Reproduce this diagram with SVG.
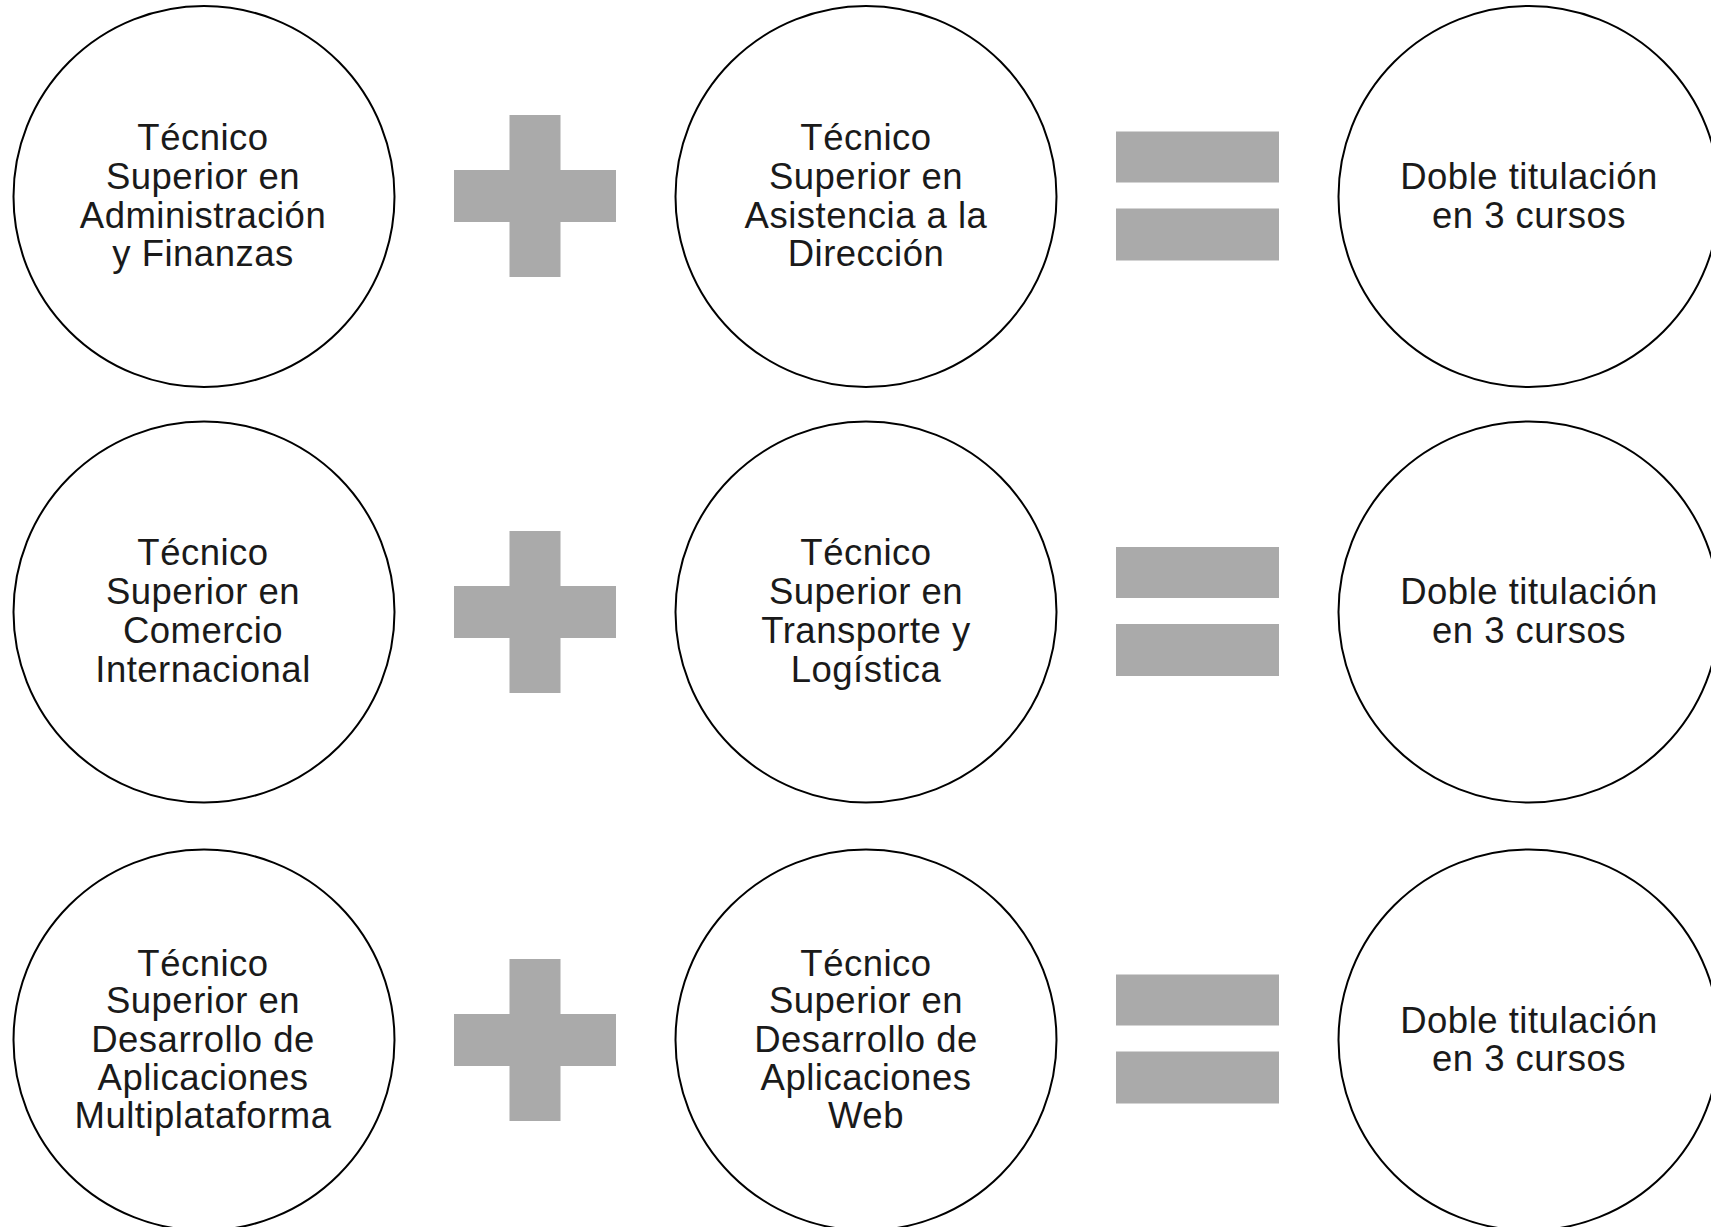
<svg xmlns="http://www.w3.org/2000/svg" width="1711" height="1227" viewBox="0 0 1711 1227">
<style>
.c{fill:#fff;stroke:#000;stroke-width:2}
.t{font-family:"Liberation Sans",Arial,sans-serif;font-size:36.5px;letter-spacing:0.5px;fill:#1a1a1a;text-anchor:middle}
.g{fill:#aaaaaa}
</style>
<defs>
<g id="plus"><rect class="g" x="-25.5" y="-81" width="51" height="162"/><rect class="g" x="-81" y="-26" width="162" height="52"/></g>
<g id="eq"><rect class="g" x="-81.5" y="-65" width="163" height="51"/><rect class="g" x="-81.5" y="12" width="163" height="52"/></g>
</defs>
<rect width="1711" height="1227" fill="#fff"/>
<g id="connectors">
<use href="#plus" x="535" y="196"/>
<use href="#eq" x="1197.5" y="196.5"/>
<use href="#plus" x="535" y="612"/>
<use href="#eq" x="1197.5" y="612"/>
<use href="#plus" x="535" y="1040"/>
<use href="#eq" x="1197.5" y="1039.5"/>
</g>
<g id="n1"><circle class="c" cx="204" cy="196.5" r="190.5"/>
<text class="t" x="203" y="149.5">Técnico</text><text class="t" x="203" y="188.5">Superior en</text><text class="t" x="203" y="227.5">Administración</text><text class="t" x="203" y="266">y Finanzas</text></g>
<g id="n2"><circle class="c" cx="866" cy="196.5" r="190.5"/>
<text class="t" x="866" y="149.5">Técnico</text><text class="t" x="866" y="188.5">Superior en</text><text class="t" x="866" y="227.5">Asistencia a la</text><text class="t" x="866" y="266">Dirección</text></g>
<g id="n3"><circle class="c" cx="1529" cy="196.5" r="190.5"/>
<text class="t" x="1529" y="188.5">Doble titulación</text><text class="t" x="1529" y="227.5">en 3 cursos</text></g>
<g id="n4"><circle class="c" cx="204" cy="612" r="190.5"/>
<text class="t" x="203" y="565">Técnico</text><text class="t" x="203" y="604">Superior en</text><text class="t" x="203" y="643">Comercio</text><text class="t" x="203" y="681.5">Internacional</text></g>
<g id="n5"><circle class="c" cx="866" cy="612" r="190.5"/>
<text class="t" x="866" y="565">Técnico</text><text class="t" x="866" y="604">Superior en</text><text class="t" x="866" y="643">Transporte y</text><text class="t" x="866" y="681.5">Logística</text></g>
<g id="n6"><circle class="c" cx="1529" cy="612" r="190.5"/>
<text class="t" x="1529" y="604">Doble titulación</text><text class="t" x="1529" y="643">en 3 cursos</text></g>
<g id="n7"><circle class="c" cx="204" cy="1040" r="190.5"/>
<text class="t" x="203" y="975.5">Técnico</text><text class="t" x="203" y="1013">Superior en</text><text class="t" x="203" y="1051.5">Desarrollo de</text><text class="t" x="203" y="1090">Aplicaciones</text><text class="t" x="203" y="1128">Multiplataforma</text></g>
<g id="n8"><circle class="c" cx="866" cy="1040" r="190.5"/>
<text class="t" x="866" y="975.5">Técnico</text><text class="t" x="866" y="1013">Superior en</text><text class="t" x="866" y="1051.5">Desarrollo de</text><text class="t" x="866" y="1090">Aplicaciones</text><text class="t" x="866" y="1128">Web</text></g>
<g id="n9"><circle class="c" cx="1529" cy="1040" r="190.5"/>
<text class="t" x="1529" y="1033">Doble titulación</text><text class="t" x="1529" y="1071">en 3 cursos</text></g>
</svg>
